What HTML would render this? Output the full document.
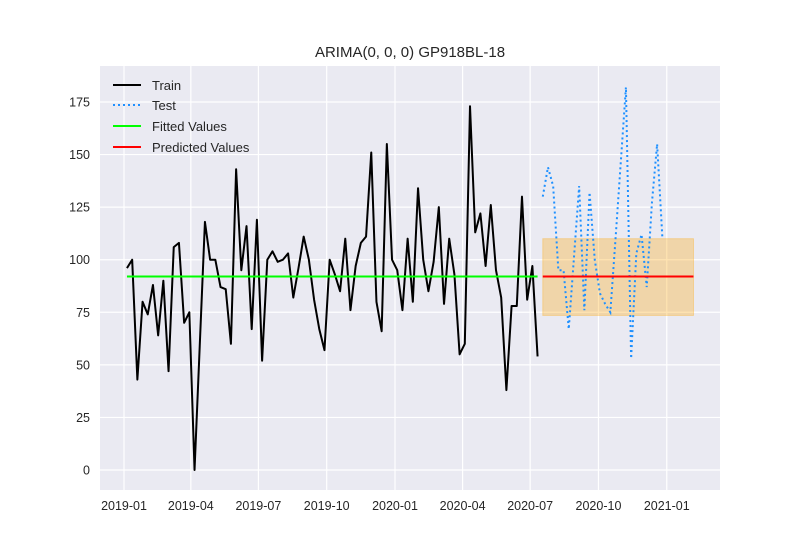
<!DOCTYPE html>
<html><head><meta charset="utf-8"><style>
html,body{margin:0;padding:0;background:#fff;}
svg text{font-family:"Liberation Sans","DejaVu Sans",sans-serif;fill:#262626;}
</style></head><body>
<svg id="chart" width="800" height="550" xmlns="http://www.w3.org/2000/svg">
<rect x="100" y="66" width="620" height="424" fill="#eaeaf2"/>
<g id="grid"></g>
<g id="marks"></g>
<g id="ticks"></g>
<text x="410" y="57" text-anchor="middle" font-size="15">ARIMA(0, 0, 0) GP918BL-18</text>
<g>
  <line x1="113" y1="85" x2="141" y2="85" stroke="#000" stroke-width="2"/>
  <text x="152" y="90" font-size="13">Train</text>
  <line x1="113" y1="105" x2="141" y2="105" stroke="#1e90ff" stroke-width="2" stroke-dasharray="2,3"/>
  <text x="152" y="110" font-size="13">Test</text>
  <line x1="113" y1="126" x2="141" y2="126" stroke="#00ff00" stroke-width="2"/>
  <text x="152" y="131" font-size="13">Fitted Values</text>
  <line x1="113" y1="147" x2="141" y2="147" stroke="#ff0000" stroke-width="2"/>
  <text x="152" y="152" font-size="13">Predicted Values</text>
</g>
</svg>
<script>
const trainValues=[96,100,43,80,74,88,64,90,47,106,108,70,75,0,59,118,100,100,87,86,60,143,95,116,67,119,52,100,104,99,100,103,82,96,111,100,81,67,57,100,93,85,110,76,97,108,111,151,80,66,155,100,95,76,110,80,134,100,85,99,125,79,110,93,55,60,173,113,122,97,126,95,82,38,78,78,130,81,97,54];
const testValues=[130,144,135,95,95,67,101,135,76,132,100,84,79,75,110,146,182,53,103,112,87,127,155,111];
const fittedValue=[92];
const predictedValue=[92];
const confLower=[73.5];
const confUpper=[110];
const predictedCount=[30];
const yTicks=[0,25,50,75,100,125,150,175];
const xTickLabels=["2019-01","2019-04","2019-07","2019-10","2020-01","2020-04","2020-07","2020-10","2021-01"];
const xTickDays=[0,90,181,273,365,456,547,639,731];

const NS="http://www.w3.org/2000/svg";
const L=100,R=720,T=66,B=490;
function xDay(d){return 124+d*0.7425;}
function xIdx(i){return xDay(4+i*7);}
function y(v){return 470-v*(368/175);}
function mk(tag,attrs,parent){const e=document.createElementNS(NS,tag);for(const k in attrs)e.setAttribute(k,attrs[k]);parent.appendChild(e);return e;}
const grid=document.getElementById('grid'),marks=document.getElementById('marks'),ticks=document.getElementById('ticks');
yTicks.forEach(v=>{
  const g=mk('line',{x1:L,x2:R,y1:y(v),y2:y(v),stroke:'#fff','stroke-width':1.2},grid);
  
  
  const t=mk('text',{x:L-10,y:y(v)+4.5,'text-anchor':'end','font-size':12.5},ticks);
  t.textContent=v;
  
  
});
xTickLabels.forEach((lab,i)=>{
  const xx=xDay(xTickDays[i]);
  const g=mk('line',{x1:xx,x2:xx,y1:T,y2:B,stroke:'#fff','stroke-width':1.2},grid);
  
  
  const t=mk('text',{x:xx,y:B+20,'text-anchor':'middle','font-size':12.5},ticks);
  t.textContent=lab;
  
  
});
const n=trainValues.length;
const p0=xIdx(n),p1=xIdx(n+predictedCount[0]-1);
const band=mk('rect',{x:p0,y:y(confUpper[0]),width:p1-p0,height:y(confLower[0])-y(confUpper[0]),fill:'#ffa500','fill-opacity':0.3,stroke:'#ffa500','stroke-opacity':0.3},marks);


const tr=mk('polyline',{points:trainValues.map((v,i)=>xIdx(i)+','+y(v)).join(' '),fill:'none',stroke:'#000','stroke-width':2,'stroke-linejoin':'round'},marks);


const te=mk('polyline',{points:testValues.map((v,i)=>xIdx(n+i)+','+y(v)).join(' '),fill:'none',stroke:'#1e90ff','stroke-width':2,'stroke-dasharray':'2,3'},marks);


const fi=mk('line',{x1:xIdx(0),x2:xIdx(n-1),y1:y(fittedValue[0]),y2:y(fittedValue[0]),stroke:'#00ff00','stroke-width':2},marks);


const pr=mk('line',{x1:p0,x2:p1,y1:y(predictedValue[0]),y2:y(predictedValue[0]),stroke:'#ff0000','stroke-width':2},marks);


</script>
</body></html>
